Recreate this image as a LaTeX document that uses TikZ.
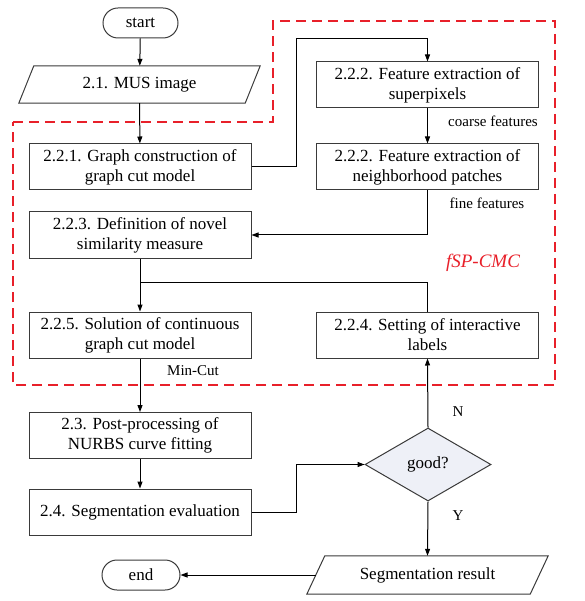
\documentclass[tikz,border=0pt]{standalone}
\usepackage{fontspec}
\setmainfont{Liberation Serif}
\usetikzlibrary{arrows.meta,shapes.geometric}
\definecolor{lc}{HTML}{3A3A3A}
\definecolor{rd}{HTML}{E8202A}
\definecolor{dfill}{HTML}{EEF0F7}
\begin{document}
\begin{tikzpicture}[x=1pt,y=-1pt,
  txt/.style={font=\fontsize{17}{20}\selectfont},
  box/.style={txt,draw=lc,line width=1pt,fill=white,minimum width=222pt,minimum height=46pt,inner sep=0pt,align=center},
  io/.style={txt,minimum height=37pt,inner sep=0pt},
  term/.style={txt,draw=lc,line width=1pt,rounded corners=15pt,minimum height=30pt,inner sep=0pt},
  arr/.style={draw=black,line width=1pt,-{Triangle[length=7pt,width=5pt]}},
  ln/.style={draw=black,line width=1pt},
  lab/.style={font=\fontsize{15}{18}\selectfont,inner sep=0pt}]
\useasboundingbox (0,0) rectangle (584,601);

% terminals
\node[term,minimum width=75pt] (start) at (140.5,23) {start};
\node[term,minimum width=78pt] (end) at (141,575) {end};

% input / output
\node[io,minimum width=226pt] (mus) at (139.5,84.5) {2.1. MUS image};
\draw[draw=lc,line width=1pt]
  ([xshift=7.5pt]mus.north west) -- ([xshift=7.5pt]mus.north east) --
  ([xshift=-7.5pt]mus.south east) -- ([xshift=-7.5pt]mus.south west) -- cycle;
\node[io,minimum width=223pt,minimum height=38pt] (seg) at (427.5,575) {Segmentation result};
\draw[draw=lc,line width=1pt]
  ([xshift=9pt]seg.north west) -- ([xshift=9pt]seg.north east) --
  ([xshift=-9pt]seg.south east) -- ([xshift=-9pt]seg.south west) -- cycle;

% process boxes
\node[box] (b221) at (140,167) {2.2.1. Graph construction of\\graph cut model};
\node[box] (b222a) at (427.5,85) {2.2.2. Feature extraction of\\superpixels};
\node[box] (b222b) at (427.5,167) {2.2.2. Feature extraction of\\neighborhood patches};
\node[box] (b223) at (140,235) {2.2.3. Definition of novel\\similarity measure};
\node[box] (b225) at (140,335) {2.2.5. Solution of continuous\\graph cut model};
\node[box] (b224) at (427.5,335) {2.2.4. Setting of interactive\\labels};
\node[box] (b23) at (140,435.5) {2.3. Post-processing of\\NURBS curve fitting};
\node[box] (b24) at (140,512) {2.4. Segmentation evaluation};

% decision
\node[txt,draw=lc,line width=1pt,fill=dfill,shape=diamond,minimum width=126pt,minimum height=73pt,inner sep=0pt] (dia) at (428,464.5) {good?};

% helper coordinates
\coordinate (k1) at (296,39);
\coordinate (k2) at (140,282);

% connectors
\draw[arr] (start) -- (mus);
\draw[arr] (mus) -- (b221);
\draw[arr] (b221.east) -| (k1) -| (b222a.north);
\draw[arr] (b222a) -- (b222b);
\draw[arr] (b222b.south) |- (b223.east);
\draw[arr] (b223) -- (b225);
\draw[ln] (b224.north) |- (k2);
\draw[arr] (b225) -- (b23);
\draw[arr] (b23) -- (b24);
\draw[arr] (b24.east) -- ++(45,0) |- (dia.west);
\draw[arr] (dia.north) -- (b224.south);
\draw[arr] (dia.south) -- (seg.north);
\draw[arr] (seg.west) -- (end.east);

% labels
\node[lab] (lc) at (493,121) {coarse features};
\node[lab] (lf) at (487,203) {fine features};
\node[lab] (lm) at (193,371) {Min-Cut};
\node[lab] (ln) at (458,412) {N};
\node[lab] (ly) at (458,516) {Y};

% red dashed region
\draw[rd,line width=1.6pt,dash pattern=on 10pt off 6pt]
  (13,122) -- (273,122) -- (273,21) -- (555,21) -- (555,385) -- (13,385) -- cycle;
\node[text=rd,font=\fontsize{19}{22}\selectfont\itshape,inner sep=0pt] (fsp) at (483,263) {fSP-CMC};
\end{tikzpicture}
\end{document}
